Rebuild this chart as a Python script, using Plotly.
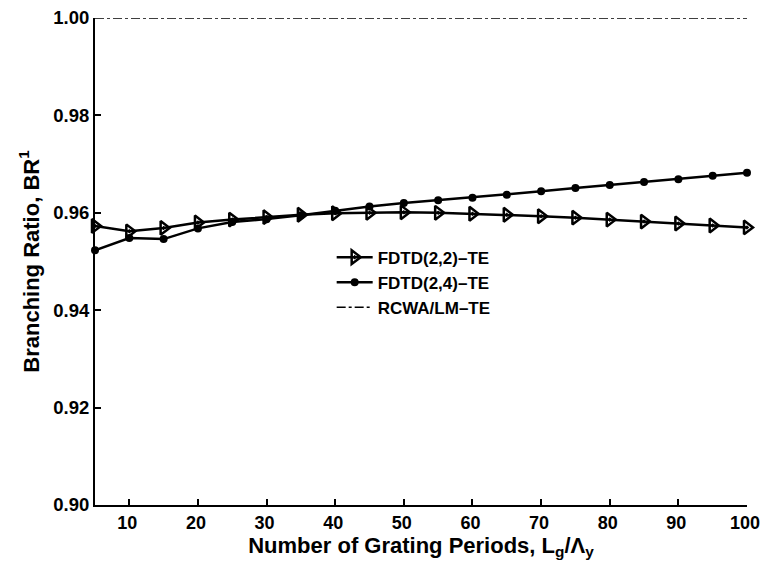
import plotly.graph_objects as go

periods = [5, 10, 15, 20, 25, 30, 35, 40, 45, 50, 55, 60, 65, 70, 75, 80, 85, 90, 95, 100]
fdtd22 = [0.9573, 0.9562, 0.9569, 0.9580, 0.9586, 0.9591, 0.9596, 0.9599, 0.9600, 0.9601,
          0.9600, 0.9598, 0.9596, 0.9593, 0.9590, 0.9586, 0.9582, 0.9578, 0.9574, 0.9570]
fdtd24 = [0.9523, 0.9548, 0.9546, 0.9568, 0.9581, 0.9587, 0.9595, 0.9604, 0.9613, 0.9620,
          0.9626, 0.9631, 0.9637, 0.9644, 0.9651, 0.9657, 0.9663, 0.9669, 0.9676, 0.9682]
rcwa_x = [5, 100]
rcwa = [1.0, 1.0]
x_ticks = [10, 20, 30, 40, 50, 60, 70, 80, 90, 100]
y_ticks = [0.90, 0.92, 0.94, 0.96, 0.98, 1.00]

FONT = "Liberation Sans, Arial, sans-serif"

fig = go.Figure()
fig.add_trace(go.Scatter(
    x=periods, y=fdtd22, mode="lines+markers", name="FDTD(2,2)\u2013TE",
    line=dict(color="black", width=2.5),
    marker=dict(symbol="triangle-right-open-dot", size=12, color="black", line=dict(width=2.5, color="black")),
    cliponaxis=False,
))
fig.add_trace(go.Scatter(
    x=periods, y=fdtd24, mode="lines+markers", name="FDTD(2,4)\u2013TE",
    line=dict(color="black", width=2.5),
    marker=dict(symbol="circle", size=8, color="black"),
    cliponaxis=False,
))
fig.add_trace(go.Scatter(
    x=rcwa_x, y=rcwa, mode="lines", name="RCWA/LM\u2013TE",
    line=dict(color="black", width=1.5, dash="dashdot"),
    cliponaxis=False,
))

fig.update_layout(
    width=761, height=573,
    margin=dict(l=95, r=14, t=18, b=68),
    paper_bgcolor="white", plot_bgcolor="white",
    font=dict(family=FONT, color="black", size=17, weight="bold"),
    showlegend=True,
    legend=dict(
        x=0.363, y=0.545, xanchor="left", yanchor="top",
        bgcolor="rgba(0,0,0,0)", borderwidth=0,
        font=dict(family=FONT, size=17, color="black", weight="bold"),
        tracegroupgap=0, itemwidth=36,
    ),
)
fig.update_xaxes(
    range=[5, 100], tickvals=x_ticks, ticktext=[str(v) for v in x_ticks],
    showline=True, linecolor="black", linewidth=2, mirror=False,
    ticks="inside", ticklen=6, tickwidth=2, tickcolor="black",
    showgrid=False, zeroline=False, automargin=False, ticklabeloverflow="allow",
    ticklabelshift=-2,
    tickfont=dict(family=FONT, size=18, color="black", weight="bold"),
    title=dict(text="Number of Grating Periods, L<sub>g</sub>/\u039b<sub>y</sub>",
               font=dict(family=FONT, size=22, color="black", weight="bold"), standoff=2),
)
fig.update_yaxes(
    range=[0.90, 1.00], tickvals=y_ticks, ticktext=[f"{v:.2f}" for v in y_ticks],
    showline=True, linecolor="black", linewidth=2, mirror=False,
    ticks="inside", ticklen=6, tickwidth=2, tickcolor="black",
    showgrid=False, zeroline=False, automargin=False, ticklabeloverflow="allow",
    tickfont=dict(family=FONT, size=18.5, color="black", weight="bold"),
    title=dict(text="Branching Ratio, BR<sup>1</sup>",
               font=dict(family=FONT, size=22, color="black", weight="bold"), standoff=8),
)

fig.write_html(
    "out.html",
    config={"displayModeBar": False},
    post_script="document.body.style.margin='0';document.body.style.overflow='hidden';",
)
